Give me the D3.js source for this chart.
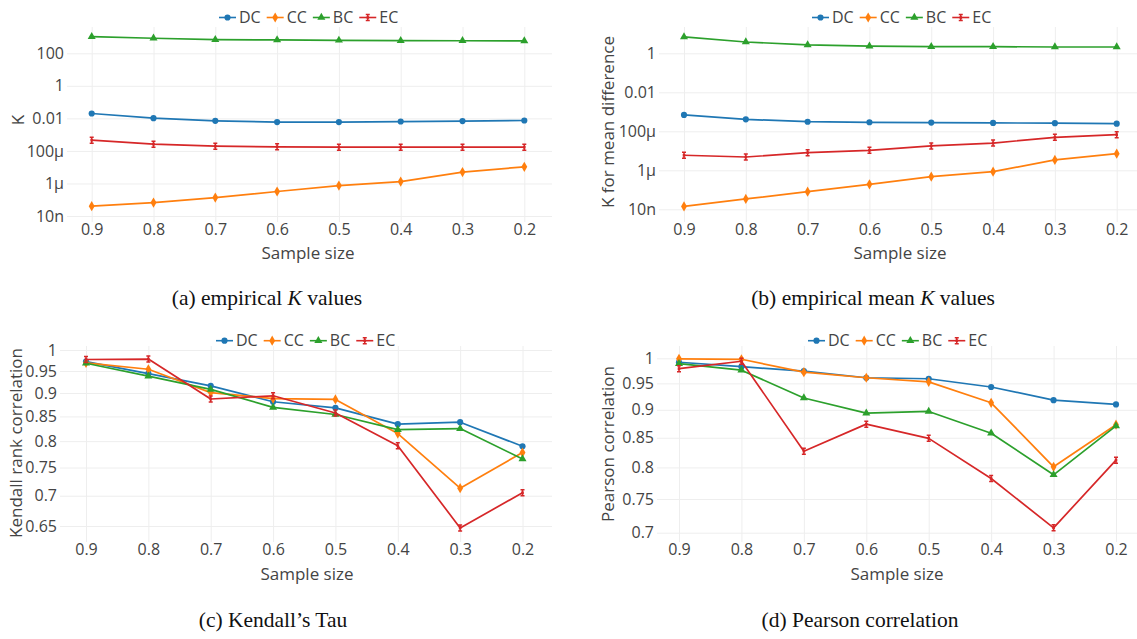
<!DOCTYPE html>
<html>
<head>
<meta charset="utf-8">
<script src="https://cdn.jsdelivr.net/npm/d3@7"></script>
<style>
  body { margin: 0; background: #fff; }
  svg text { font-family: "Open Sans", sans-serif; fill: #444; }
  svg text.caption { font-family: "Liberation Serif", "Times New Roman", serif; fill: #111; }
</style>
</head>
<body>
<svg id="chart" width="1137" height="639"></svg>
<script>
/////////////////////////Data////////////////////////////

let sampleSizes = ["0.9", "0.8", "0.7", "0.6", "0.5", "0.4", "0.3", "0.2"];
let seriesNames = ["DC", "CC", "BC", "EC"];
let seriesColors = ["#1f77b4", "#ff7f0e", "#2ca02c", "#d62728"];

// (a) empirical K values
let kDC = [0.020, 0.0103, 0.0071, 0.0059, 0.0059, 0.0064, 0.0068, 0.0074];
let kCC = [4.0e-8, 6.7e-8, 1.35e-7, 3.2e-7, 7.4e-7, 1.3e-6, 5.0e-6, 1.05e-5];
let kBC = [1050, 840, 690, 660, 630, 600, 590, 580];
let kEC = [4.6e-4, 2.6e-4, 1.96e-4, 1.78e-4, 1.7e-4, 1.7e-4, 1.7e-4, 1.7e-4];
let kTicks = [100, 1, 0.01, 1e-4, 1e-6, 1e-8];
let kTickLabels = ["100", "1", "0.01", "100µ", "1µ", "10n"];

// (b) empirical mean K values
let meanDC = [6.9e-4, 4.1e-4, 3.1e-4, 2.9e-4, 2.8e-4, 2.7e-4, 2.6e-4, 2.45e-4];
let meanCC = [1.4e-8, 3.4e-8, 8e-8, 1.9e-7, 4.7e-7, 8.5e-7, 3.4e-6, 7.1e-6];
let meanBC = [6.9, 3.8, 2.7, 2.35, 2.2, 2.2, 2.1, 2.1];
let meanEC = [5.9e-6, 4.8e-6, 8e-6, 1.06e-5, 1.78e-5, 2.5e-5, 4.9e-5, 6.7e-5];
let meanTicks = [1, 0.01, 1e-4, 1e-6, 1e-8];
let meanTickLabels = ["1", "0.01", "100µ", "1µ", "10n"];

// (c) Kendall's Tau
let tauDC = [0.972, 0.944, 0.916, 0.881, 0.868, 0.834, 0.838, 0.790];
let tauCC = [0.969, 0.954, 0.901, 0.888, 0.886, 0.815, 0.713, 0.778];
let tauBC = [0.968, 0.938, 0.908, 0.869, 0.854, 0.823, 0.825, 0.766];
let tauEC = [0.977, 0.978, 0.887, 0.894, 0.857, 0.791, 0.647, 0.705];
let tauTicks = [1, 0.95, 0.9, 0.85, 0.8, 0.75, 0.7, 0.65];

// (d) Pearson correlation
let pearDC = [0.992, 0.983, 0.974, 0.961, 0.959, 0.943, 0.918, 0.910];
let pearCC = [0.999, 0.998, 0.972, 0.961, 0.953, 0.913, 0.801, 0.873];
let pearBC = [0.989, 0.976, 0.922, 0.894, 0.897, 0.858, 0.788, 0.871];
let pearEC = [0.979, 0.994, 0.827, 0.874, 0.849, 0.782, 0.707, 0.812];
let pearTicks = [1, 0.95, 0.9, 0.85, 0.8, 0.75, 0.7];

/////////////////////////Layout////////////////////////////

let panels = [
  { series: [kDC, kCC, kBC, kEC], ticks: kTicks, tickLabels: kTickLabels,
    left: 67, right: 552, top: 27, bottom: 222, xRange: [91.7, 524.3],
    yDomain: [1e-8, 100], yRange: [216, 53.3],
    yTitle: "K", yTitlePos: [18, 120], xTitlePos: [308, 259], legendPos: [219, 17.5],
    caption: ["(a) empirical ", "K", " values"], capPos: [267, 305] },
  { series: [meanDC, meanCC, meanBC, meanEC], ticks: meanTicks, tickLabels: meanTickLabels,
    left: 659, right: 1137, top: 27, bottom: 222, xRange: [684, 1116.7],
    yDomain: [1e-8, 1], yRange: [209.3, 53.3],
    yTitle: "K for mean difference", yTitlePos: [608, 122], xTitlePos: [900, 259], legendPos: [812, 17.5],
    caption: ["(b) empirical mean ", "K", " values"], capPos: [873, 305] },
  { series: [tauDC, tauCC, tauBC, tauEC], ticks: tauTicks, tickLabels: null,
    left: 60, right: 552, top: 346, bottom: 542, xRange: [86, 522.5],
    yDomain: [0.65, 1], yRange: [526, 350],
    yTitle: "Kendall rank correlation", yTitlePos: [16, 443], xTitlePos: [307, 580], legendPos: [216, 340.7],
    caption: ["(c) Kendall\u2019s Tau"], capPos: [273, 627] },
  { series: [pearDC, pearCC, pearBC, pearEC], ticks: pearTicks, tickLabels: null,
    left: 657, right: 1137, top: 346, bottom: 542, xRange: [679, 1116],
    yDomain: [0.7, 1], yRange: [532.7, 358.3],
    yTitle: "Pearson correlation", yTitlePos: [608, 444], xTitlePos: [897, 580], legendPos: [808, 340.7],
    caption: ["(d) Pearson correlation"], capPos: [860, 627] }
];

let svg = d3.select("#chart");

/////////////////////////Functions////////////////////////////

// Draw the marker for series i at the current group origin
function drawMarker(g, i, color) {
  if (i === 3) {
    // EC: small I-beam (error bar look)
    g.append("path")
      .attr("d", "M-2,-3h4M-2,3h4M0,-3v6")
      .attr("stroke", color)
      .attr("stroke-width", 1.5)
      .attr("fill", "none");
    g.append("rect")
      .attr("x", -1.3).attr("y", -1.3).attr("width", 2.6).attr("height", 2.6)
      .attr("fill", color);
  } else {
    let type = [d3.symbolCircle, d3.symbolDiamond, d3.symbolTriangle][i];
    let size = [30, 30, 28][i];
    g.append("path")
      .attr("d", d3.symbol().type(type).size(size)())
      .attr("fill", color);
  }
}

function drawPanel(p) {
  let x = d3.scalePoint().domain(sampleSizes).range(p.xRange);
  let y = d3.scaleLog().domain(p.yDomain).range(p.yRange);

  let g = svg.append("g");

  // grid lines
  g.append("g")
    .attr("transform", `translate(0, ${p.bottom})`)
    .call(d3.axisBottom(x).tickSize(-(p.bottom - p.top)).tickFormat(""))
    .call(a => a.select(".domain").remove())
    .call(a => a.selectAll("line").attr("stroke", "#eee"));

  g.append("g")
    .attr("transform", `translate(${p.left}, 0)`)
    .call(d3.axisLeft(y).tickValues(p.ticks).tickSize(-(p.right - p.left)).tickFormat(""))
    .call(a => a.select(".domain").remove())
    .call(a => a.selectAll("line").attr("stroke", "#eee"));

  // tick labels
  g.append("g")
    .attr("transform", `translate(0, ${p.bottom})`)
    .call(d3.axisBottom(x).tickSize(0).tickPadding(2))
    .call(a => a.select(".domain").remove())
    .call(a => a.selectAll("text").attr("font-size", 16).attr("fill", "#444")
      .style("font-family", "'Open Sans', sans-serif"));

  g.append("g")
    .attr("transform", `translate(${p.left}, 0)`)
    .call(d3.axisLeft(y).tickValues(p.ticks).tickSize(0).tickPadding(3)
      .tickFormat((d, i) => p.tickLabels ? p.tickLabels[i] : String(d)))
    .call(a => a.select(".domain").remove())
    .call(a => a.selectAll("text").attr("font-size", 16).attr("fill", "#444")
      .style("font-family", "'Open Sans', sans-serif"));

  // axis titles
  g.append("text")
    .attr("x", p.xTitlePos[0])
    .attr("y", p.xTitlePos[1])
    .attr("text-anchor", "middle")
    .attr("font-size", 17)
    .text("Sample size");

  g.append("text")
    .attr("transform", `translate(${p.yTitlePos[0]}, ${p.yTitlePos[1]}) rotate(-90)`)
    .attr("text-anchor", "middle")
    .attr("dy", "0.35em")
    .attr("font-size", 17)
    .text(p.yTitle);

  // lines + markers
  let line = d3.line()
    .x((d, i) => x(sampleSizes[i]))
    .y(d => y(d));

  p.series.forEach((values, i) => {
    g.append("path")
      .datum(values)
      .attr("d", line)
      .attr("fill", "none")
      .attr("stroke", seriesColors[i])
      .attr("stroke-width", 1.7)
      .attr("stroke-linejoin", "round");

    values.forEach((v, j) => {
      let m = g.append("g")
        .attr("transform", `translate(${x(sampleSizes[j])}, ${y(v)})`);
      drawMarker(m, i, seriesColors[i]);
    });
  });

  // legend
  let lx = p.legendPos[0];
  seriesNames.forEach((name, i) => {
    let item = g.append("g")
      .attr("transform", `translate(${lx}, ${p.legendPos[1]})`);
    item.append("line")
      .attr("x1", 0).attr("x2", 17)
      .attr("stroke", seriesColors[i])
      .attr("stroke-width", 1.6);
    drawMarker(item.append("g").attr("transform", "translate(8.5, 0)"), i, seriesColors[i]);
    let t = item.append("text")
      .attr("x", 20)
      .attr("dy", "0.36em")
      .attr("font-size", 16)
      .text(name);
    lx += 20 + t.node().getComputedTextLength() + 6;
  });

  // caption
  let cap = svg.append("text")
    .classed("caption", true)
    .attr("x", p.capPos[0])
    .attr("y", p.capPos[1])
    .attr("text-anchor", "middle")
    .attr("font-size", 21.5);
  p.caption.forEach((part, k) => {
    cap.append("tspan")
      .attr("font-style", k === 1 ? "italic" : null)
      .text(part);
  });
}

/////////////////////////Create Chart////////////////////////////

panels.forEach(drawPanel);
</script>
</body>
</html>
